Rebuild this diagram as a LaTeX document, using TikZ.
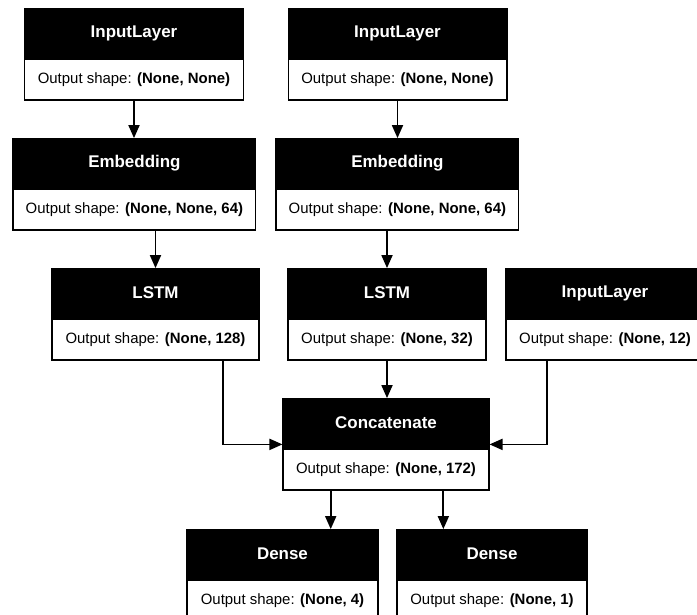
\documentclass[tikz,border=0pt]{standalone}
\usepackage{fontspec}
\setmainfont{Liberation Sans}
\usetikzlibrary{arrows.meta,calc}

\tikzset{
  layerhead/.style={draw=black, fill=black, text=white, line width=1.8bp,
    minimum height=48bp, inner sep=0pt, font=\fontsize{17}{20}\selectfont\bfseries},
  layerbody/.style={draw=black, fill=white, line width=1.8bp, anchor=north,
    minimum height=41bp, inner sep=0pt, font=\fontsize{15}{18}\selectfont},
  flow/.style={draw=black, line width=1.8bp, -{Triangle[length=13bp,width=11bp]}}
}

\newcommand{\layer}[6]{%
  % #1 name, #2 x centre, #3 header centre y, #4 width, #5 title, #6 shape
  \node[layerhead, minimum width=#4] (#1h) at (#2,#3) {#5};
  \node[layerbody, minimum width=#4] (#1b) at (#1h.south) {Output shape: \textbf{#6}};
}

\begin{document}
\begin{tikzpicture}[x=1bp, y=-1bp]
\useasboundingbox (0,0) rectangle (697,615);

% inputs
\layer{inA}{134}{33}{220}{InputLayer}{(None, None)}
\layer{inB}{397.5}{33}{219}{InputLayer}{(None, None)}
% embeddings
\layer{embA}{134.4}{163}{243}{Embedding}{(None, None, 64)}
\layer{embB}{397.4}{163}{243}{Embedding}{(None, None, 64)}
% recurrent layers and the side input
\layer{lstmA}{155.5}{293}{207}{LSTM}{(None, 128)}
\layer{lstmB}{387}{293}{198}{LSTM}{(None, 32)}
\layer{inC}{605}{293}{198}{InputLayer}{(None, 12)}
% merge
\layer{cat}{386}{423}{206}{Concatenate}{(None, 172)}
% outputs
\layer{denA}{282.5}{554}{191}{Dense}{(None, 4)}
\layer{denB}{492}{554}{190}{Dense}{(None, 1)}

% edge anchor points
\coordinate (lstmAout) at ($(lstmAb.south west)!0.826!(lstmAb.south east)$);
\coordinate (inCout) at ($(inCb.south west)!0.207!(inCb.south east)$);
\coordinate (catL) at ($(cath.north west)!0.5!(catb.south west)$);
\coordinate (catR) at ($(cath.north east)!0.5!(catb.south east)$);
\coordinate (catoutA) at ($(catb.south west)!0.233!(catb.south east)$);
\coordinate (catoutB) at ($(catb.south west)!0.777!(catb.south east)$);

% connectors
\draw[flow] (inAb.south) -- (inAb.south |- embAh.north);
\draw[flow] (inBb.south) -- (inBb.south |- embBh.north);
\draw[flow] (embAb.south -| lstmAh.north) -- (lstmAh.north);
\draw[flow] (embBb.south -| lstmBh.north) -- (lstmBh.north);
\draw[flow] (lstmBb.south) -- (lstmBb.south |- cath.north);
\draw[flow] (lstmAout) |- (catL);
\draw[flow] (inCout) |- (catR);
\draw[flow] (catoutA) -- (catoutA |- denAh.north);
\draw[flow] (catoutB) -- (catoutB |- denBh.north);
\end{tikzpicture}
\end{document}
